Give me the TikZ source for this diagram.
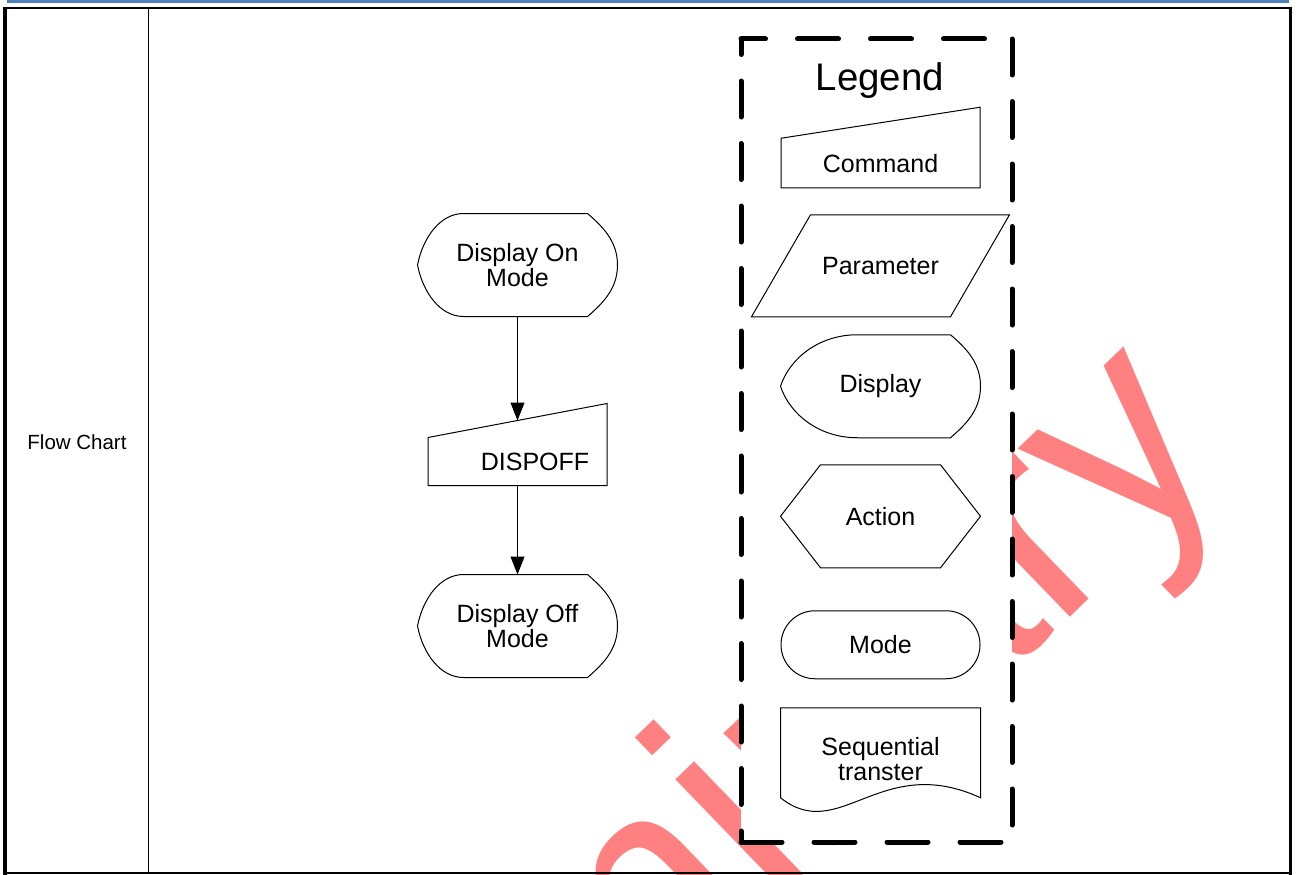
\documentclass[tikz,border=0pt]{standalone}
\usepackage{fontspec}
\setmainfont{Liberation Sans}
\usetikzlibrary{arrows.meta,positioning,calc,shapes.misc}
\definecolor{barblue}{RGB}{79,129,189}
\definecolor{wmred}{RGB}{255,128,128}

% outlines drawn round plain (invisible) nodes
\newcommand{\cmdframe}[2]{\draw[shp] ($(#1.north west)+(0,#2)$) -- ($(#1.north east)+(0,-#2)$) -- (#1.south east) -- (#1.south west) -- cycle;}
\newcommand{\dispframe}[2]{\draw[shp] ($(#1.north west)+(#2,0)$) -- ($(#1.north east)+(-30,0)$) .. controls +(15,13) and +(0,-24) .. (#1.east) .. controls +(0,24) and +(15,-13) .. ($(#1.south east)+(-30,0)$) -- ($(#1.south west)+(#2,0)$) .. controls +({-#2/2},0) and +({0.12*#2},28) .. (#1.west) .. controls +({0.12*#2},-28) and +({-#2/2},0) .. ($(#1.north west)+(#2,0)$) -- cycle;}
\newcommand{\hexframe}[2]{\draw[shp] ($(#1.north west)+(#2,0)$) -- ($(#1.north east)+(-#2,0)$) -- (#1.east) -- ($(#1.south east)+(-#2,0)$) -- ($(#1.south west)+(#2,0)$) -- (#1.west) -- cycle;}
\newcommand{\parframe}[2]{\draw[shp] ($(#1.north west)+(#2,0)$) -- (#1.north east) -- ($(#1.south east)+(-#2,0)$) -- (#1.south west) -- cycle;}
\newcommand{\docframe}[1]{\draw[shp] (#1.north west) -- (#1.north east) -- ($(#1.north east)+(0,90)$) .. controls +(-100,-46) and +(59,47) .. ($(#1.north west)+(0,90)$) -- cycle;}

\begin{document}
\begin{tikzpicture}[x=1pt,y=-1pt,fc/.style={font=\fontsize{25}{25}\selectfont,align=center,inner sep=2pt,outer sep=0pt},dispbox/.style={fc,minimum width=200pt,minimum height=103pt},cmdbox/.style={fc,text height=35pt,text depth=0pt,minimum width=#1,minimum height=65pt},shp/.style={line width=1pt},arr/.style={-{Triangle[length=18pt,width=14pt]},line width=1pt},hdash/.style={line width=5pt,line cap=round,dash pattern=on 41pt off 32pt},vdash/.style={line width=5pt,line cap=round,dash pattern=on 36pt off 26.5pt},node distance=27pt]
\useasboundingbox (0,0) rectangle (1298,875);
% watermark
\begin{scope}
\clip (0,0) rectangle (1298,875);
\node[wmred,font=\fontsize{297}{297}\selectfont,rotate=44,anchor=base east,inner sep=0pt] (wmark) at (1234,459) {Preliminary};
\end{scope}
% legend
\fill[white] (741,39) rectangle (1012,842);
\draw[hdash,dash phase=16.5pt] (741,39) -- (1012,39);
\draw[hdash] (741,842) -- (1012,842);
\draw[vdash,dash phase=20.5pt] (741,39) -- (741,842);
\draw[vdash] (1012,39) -- (1012,842);
\node[font=\fontsize{38.4}{40}\selectfont] (legtitle) at (880,81) {Legend};
\node[cmdbox=199pt] (legcmd) at (880.5,155.25) {Command};
\node[fc,minimum width=258pt,minimum height=102pt,below=27pt of legcmd] (legpar) {Parameter};
\node[dispbox,below=18pt of legpar] (legdisp) {Display};
\node[dispbox,below=of legdisp] (legact) {Action};
\node[fc,draw,shp,rounded rectangle,minimum width=203pt,minimum height=68pt,below=43pt of legact] (legmode) {Mode};
\node[dispbox,below=29pt of legmode] (legseq) {Sequential\\transter};
\cmdframe{legcmd}{15.5}
\parframe{legpar}{59}
\dispframe{legdisp}{77}
\hexframe{legact}{40}
\docframe{legseq}
% flow chart
\node[dispbox] (dispon) at (517.5,265) {Display On\\Mode};
\node[cmdbox=179pt,below=104pt of dispon] (dispoff) {\hspace*{35pt}DISPOFF};
\node[dispbox,below=89pt of dispoff] (dispoffmode) {Display Off\\Mode};
\dispframe{dispon}{46}
\cmdframe{dispoff}{17}
\dispframe{dispoffmode}{46}
\draw[arr] (dispon) -- (dispoff);
\draw[arr] (dispoff) -- (dispoffmode);
% table frame
\node[font=\fontsize{20.5}{24}\selectfont] (rowtitle) at (77,442) {Flow Chart};
\draw[line width=3pt,barblue] (7,1.5) -- (1289,1.5);
\draw[line width=2pt] (4,8) -- (1292,8);
\draw[line width=2pt] (4,873) -- (1292,873);
\draw[line width=3.5pt] (5,7) -- (5,875);
\draw[line width=3.5pt] (1290.5,7) -- (1290.5,875);
\draw[line width=1.5pt] (148.5,8) -- (148.5,873);
\end{tikzpicture}
\end{document}
